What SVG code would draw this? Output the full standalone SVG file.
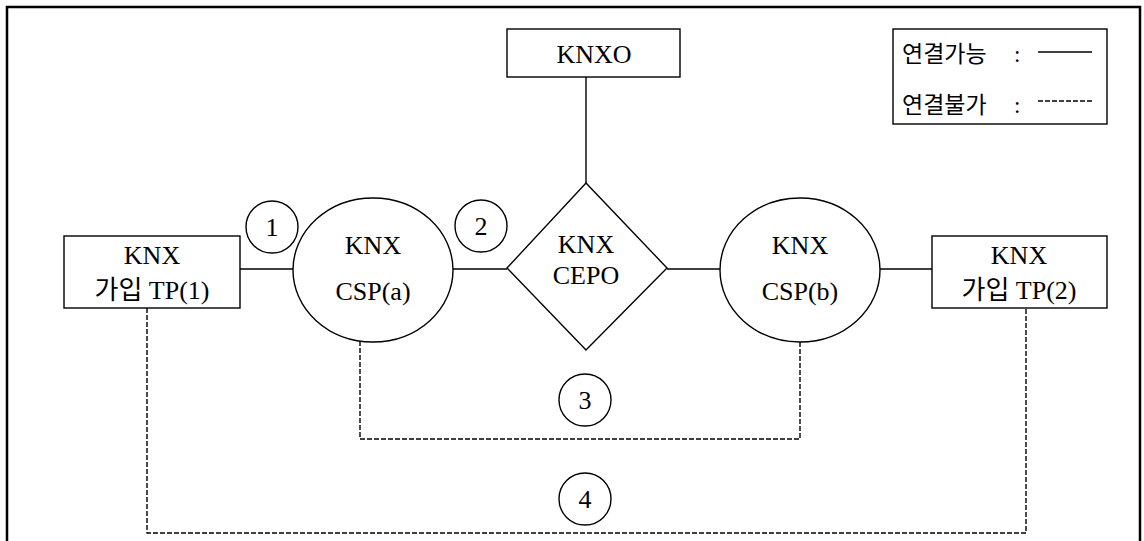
<svg xmlns="http://www.w3.org/2000/svg" width="1144" height="541" viewBox="0 0 1144 541">
<style>
.s{fill:none;stroke:#000;stroke-width:1.4}
.n{fill:#fff;stroke:#000;stroke-width:1.4}
.d{fill:none;stroke:#000;stroke-width:1.4;stroke-dasharray:5 2}
.t{font-family:"Liberation Serif","Noto Sans CJK KR",serif;font-size:26px;text-anchor:middle;fill:#000}
.k{font-family:"Liberation Serif","Noto Sans CJK KR",serif;font-size:23px;fill:#000}
.c{font-family:"Liberation Serif","Noto Sans CJK KR",serif;font-size:26px;text-anchor:middle;fill:#000}
</style>
<rect width="1144" height="541" fill="#fff"/>
<path d="M7 545 V7 H1140 V545" fill="none" stroke="#000" stroke-width="2.5"/>
<g id="connectors">
<line class="s" x1="586" y1="77" x2="586" y2="183"/>
<line class="s" x1="240" y1="269" x2="293" y2="269"/>
<line class="s" x1="453" y1="269" x2="507" y2="269"/>
<line class="s" x1="667" y1="269" x2="720" y2="269"/>
<line class="s" x1="880" y1="269" x2="932" y2="269"/>
<path class="d" d="M360 341 V439 H800 V342"/>
<path class="d" d="M147 308 V533 H1026 V308"/>
</g>
<g id="knxo">
<rect class="n" x="507" y="29" width="173" height="48"/>
<text class="t" x="594" y="63">KNXO</text>
</g>
<g id="legend">
<rect class="n" x="893" y="29" width="214" height="95"/>
<text class="k" x="902" y="62">연결가능</text>
<text class="k" x="1014" y="62">:</text>
<line class="s" x1="1038" y1="52" x2="1092" y2="52"/>
<text class="k" x="902" y="113">연결불가</text>
<text class="k" x="1014" y="113">:</text>
<line class="d" x1="1038" y1="101" x2="1092" y2="101" stroke-dasharray="3 1.5" stroke-width="1"/>
</g>
<g id="tp1">
<rect class="n" x="64" y="236" width="176" height="72"/>
<text class="t" x="152" y="264">KNX</text>
<text class="t" x="152" y="299">가입  TP(1)</text>
</g>
<g id="tp2">
<rect class="n" x="932" y="236" width="175" height="72"/>
<text class="t" x="1019" y="264">KNX</text>
<text class="t" x="1019" y="299">가입  TP(2)</text>
</g>
<g id="cspa">
<ellipse class="n" cx="373" cy="270" rx="80" ry="72"/>
<text class="t" x="373" y="254">KNX</text>
<text class="t" x="373" y="300">CSP(a)</text>
</g>
<g id="cspb">
<ellipse class="n" cx="800" cy="270" rx="80" ry="72"/>
<text class="t" x="800" y="254">KNX</text>
<text class="t" x="800" y="300">CSP(b)</text>
</g>
<g id="cepo">
<polygon class="n" points="586,183 667,268 586,350 507,268"/>
<text class="t" x="586" y="253">KNX</text>
<text class="t" x="586" y="284">CEPO</text>
</g>
<g id="n1"><circle class="n" cx="272" cy="227" r="26"/><text class="c" x="272" y="236">1</text></g>
<g id="n2"><circle class="n" cx="481" cy="226" r="26"/><text class="c" x="481" y="235">2</text></g>
<g id="n3"><circle class="n" cx="585" cy="400" r="26"/><text class="c" x="585" y="409">3</text></g>
<g id="n4"><circle class="n" cx="585" cy="499" r="26"/><text class="c" x="585" y="508">4</text></g>
</svg>
